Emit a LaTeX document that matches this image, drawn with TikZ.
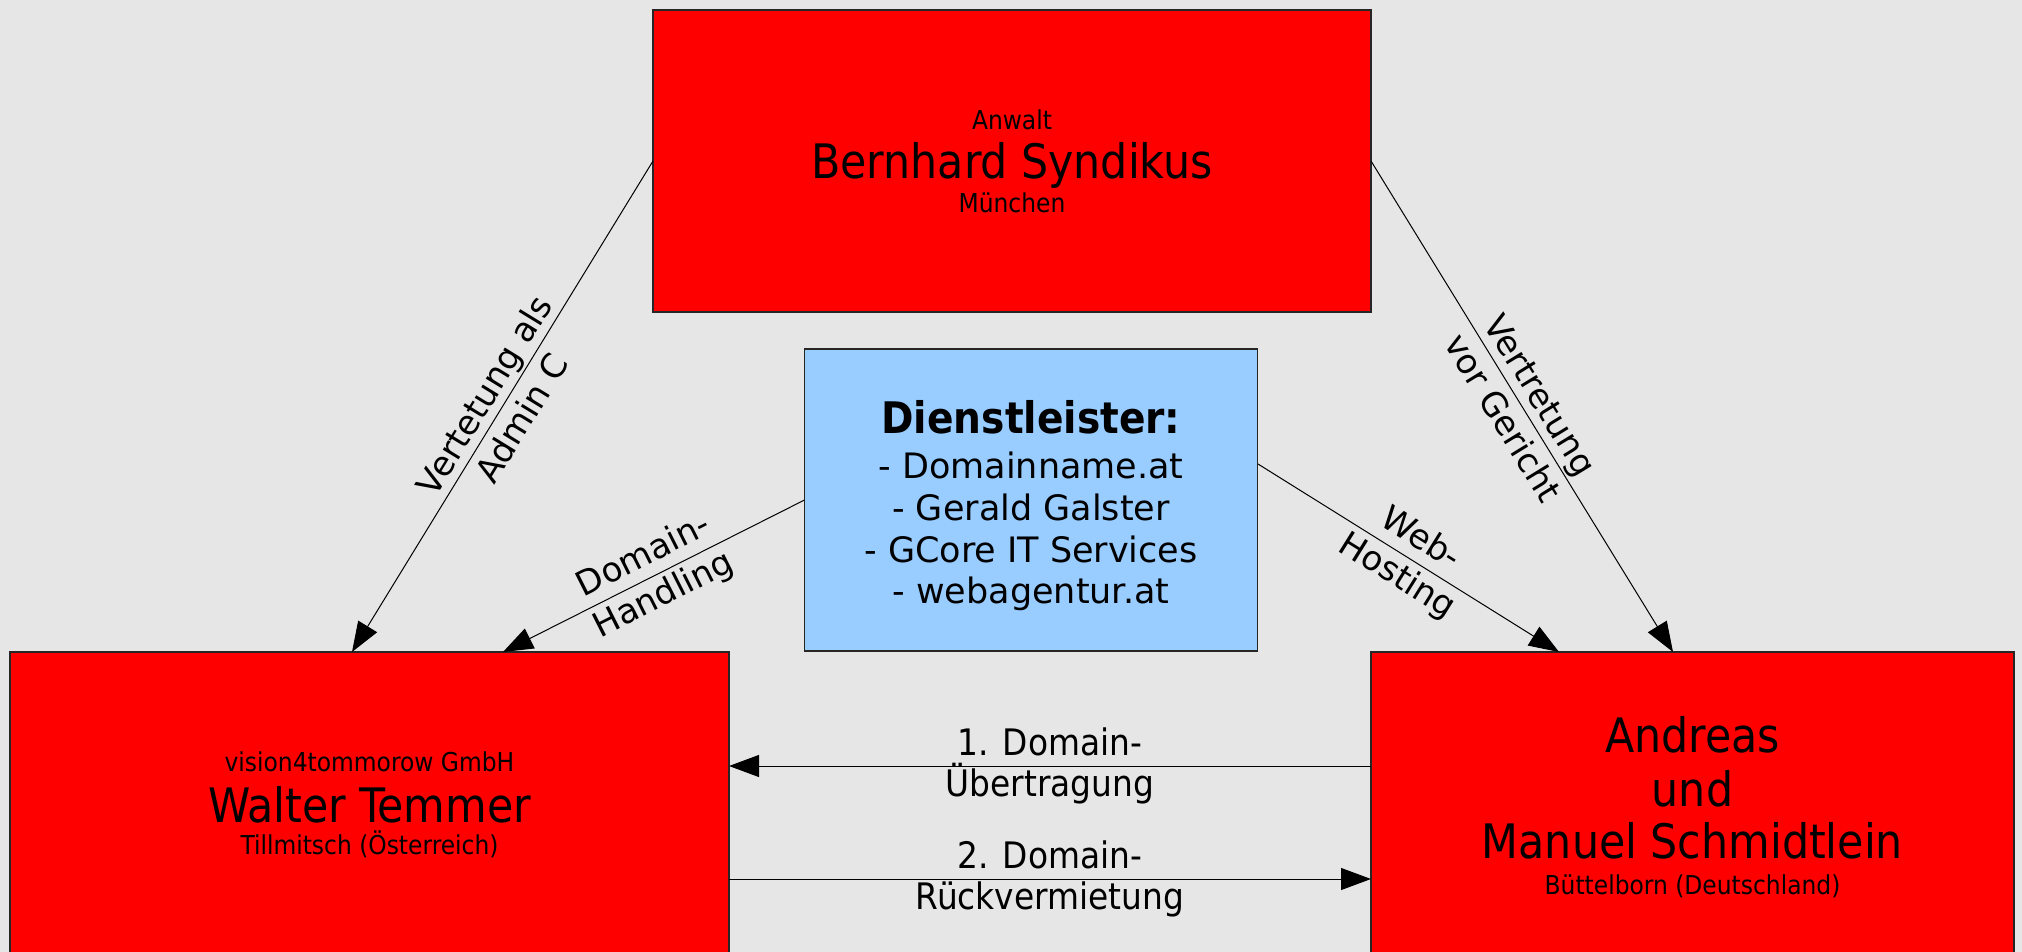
\documentclass[tikz,border=0pt]{standalone}
\usepackage{fontspec}
\setmainfont{DejaVu Sans}
\newfontfamily\condfont{DejaVu Sans Condensed}[BoldFont={DejaVu Sans Condensed Bold}]
\usetikzlibrary{arrows.meta}
\definecolor{bg}{HTML}{E6E6E6}
\definecolor{boxred}{HTML}{FF0000}
\definecolor{boxblue}{HTML}{99CCFF}
\begin{document}
\begin{tikzpicture}[x=1pt,y=-1pt,
  box/.style={draw=black!85, line width=1.3pt, inner sep=0pt, outer sep=0pt},
  redbox/.style={box, fill=boxred},
  bluebox/.style={box, fill=boxblue},
  conn/.style={draw=black, line width=1pt, -{Triangle[length=30pt,width=22pt]}},
  smalltxt/.style={font=\condfont\fontsize{26}{30}\selectfont, anchor=base, inner sep=0pt},
  bigtxt/.style={font=\condfont\fontsize{47.5}{54}\selectfont, anchor=base, inner sep=0pt},
  bluetitle/.style={font=\condfont\bfseries\fontsize{43.5}{50}\selectfont, anchor=base, inner sep=0pt},
  bluetxt/.style={font=\fontsize{35}{42}\selectfont, anchor=base, inner sep=0pt},
  lab/.style={font=\fontsize{34}{44}\selectfont, align=center, inner sep=0pt, sloped},
  botlab/.style={font=\condfont\fontsize{36.5}{41}\selectfont, align=center, inner sep=0pt}
]
\fill[bg] (0,0) rectangle (2022,952);
\clip (0,0) rectangle (2022,952);

% boxes
\node[redbox, minimum width=718pt, minimum height=302pt] (top) at (1012,161) {};
\node[bluebox, minimum width=453pt, minimum height=302pt] (blue) at (1031,500) {};
\node[redbox, minimum width=719pt, minimum height=302pt] (left) at (369.5,803) {};
\node[redbox, minimum width=643pt, minimum height=302pt] (right) at (1692.5,803) {};

% top box text
\node[smalltxt] (anw) at (1012,130) {Anwalt};
\node[bigtxt] (bern) at (1012,179) {Bernhard Syndikus};
\node[smalltxt] (muc) at (1012,213) {München};

% blue box text
\node[bluetitle] (dl) at (1031,433) {Dienstleister:};
\node[bluetxt] (d1) at (1031,478) {- Domainname.at};
\node[bluetxt] (d2) at (1031,520) {- Gerald Galster};
\node[bluetxt] (d3) at (1031,562) {- GCore IT Services};
\node[bluetxt] (d4) at (1031,603) {- webagentur.at};

% left box text
\node[smalltxt] (vis) at (369.5,771) {vision4tommorow GmbH};
\node[bigtxt] (walt) at (369.5,822) {Walter Temmer};
\node[smalltxt] (till) at (369.5,854) {Tillmitsch (Österreich)};

% right box text
\node[bigtxt] (andr) at (1692.5,752) {Andreas};
\node[bigtxt] (und) at (1692.5,806) {und};
\node[bigtxt] (man) at (1692.5,858) {Manuel Schmidtlein};
\node[smalltxt] (bue) at (1692.5,894) {Büttelborn (Deutschland)};

% connector end points
\coordinate (aL) at (352,652);
\coordinate (hL) at (503,652);
\coordinate (gR) at (1673,652);
\coordinate (wR) at (1559,652);
\coordinate (wB) at (1258,464);
\coordinate (y1) at (0,766);
\coordinate (y2) at (0,879);

\draw[conn] (top.west) -- node[lab] (la) {Vertetung als\\Admin C} (aL);
\draw[conn] (top.east) -- node[lab] (lg) {Vertretung\\vor Gericht} (gR);
\draw[conn] (blue.west) -- node[lab] (lh) {Domain-\\Handling} (hL);
\draw[conn] (wB) -- node[lab] (lw) {Web-\\Hosting} (wR);

\draw[conn] (right.west |- y1) -- node[botlab] (l1) {1. Domain-\\Übertragung} (left.east |- y1);
\draw[conn] (left.east |- y2) -- node[botlab] (l2) {2. Domain-\\Rückvermietung} (right.west |- y2);
\end{tikzpicture}
\end{document}
